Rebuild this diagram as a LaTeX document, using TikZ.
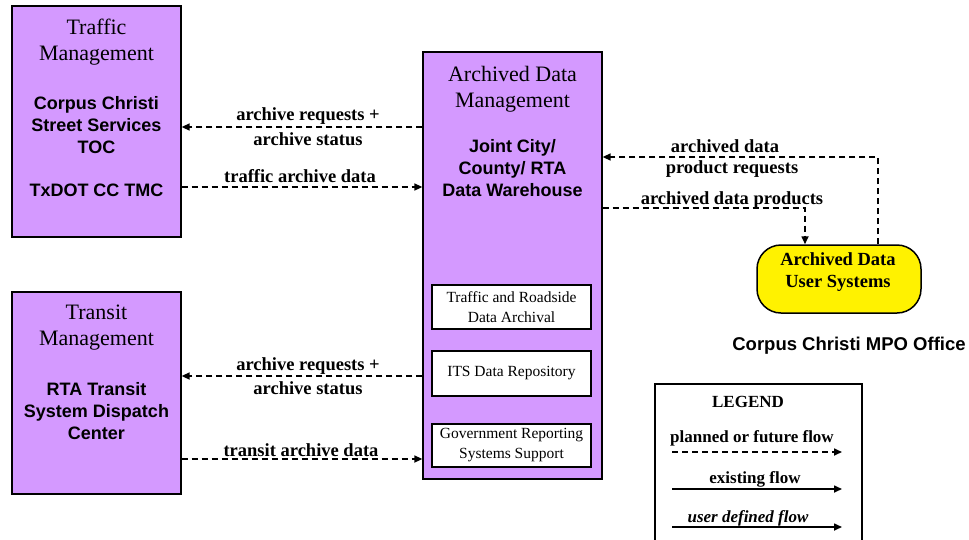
\documentclass[tikz,border=0pt]{standalone}
\usepackage{fontspec}
\setmainfont{Liberation Serif}
\setsansfont{Liberation Sans}
\usetikzlibrary{arrows.meta}
\definecolor{purp}{RGB}{212,153,255}
\begin{document}
\begin{tikzpicture}[x=1pt,y=-1pt,
  box/.style={draw=black, line width=1.3pt, fill=purp, inner sep=0pt},
  sub/.style={draw=black, line width=1.3pt, fill=white, minimum width=159pt, inner sep=0pt, align=center, font=\fontsize{15.5}{20}\selectfont},
  title/.style={font=\fontsize{22}{26}\selectfont, align=center, inner sep=0pt},
  org/.style={font=\sffamily\bfseries\fontsize{18}{22}\selectfont, align=center, inner sep=0pt},
  lab/.style={font=\bfseries\fontsize{18.5}{22}\selectfont, align=center, inner sep=0pt},
  leglab/.style={font=\bfseries\fontsize{17}{20}\selectfont, align=center, inner sep=0pt},
  flow/.style={dash pattern=on 6pt off 4pt, line width=1.6pt, -{Triangle[length=8pt,width=7pt]}},
  solidflow/.style={line width=1.6pt, -{Triangle[length=8pt,width=7pt]}}
]
\useasboundingbox (0,0) rectangle (969,539);

% Traffic Management
\node[box, minimum width=169pt, minimum height=231pt] (tm) at (96.5,121.5) {};
\node[title] (tmt) at (96.5,42) {Traffic\\Management};
\node[org] (tmo) at (96.5,125) {Corpus Christi\\Street Services\\TOC};
\node[org] (tmo2) at (96.5,190) {TxDOT CC TMC};

% Transit Management
\node[box, minimum width=169pt, minimum height=202pt] (trm) at (96.5,393) {};
\node[title] (trmt) at (96.5,328) {Transit\\Management};
\node[org] (trmo) at (96.5,411) {RTA Transit\\System Dispatch\\Center};

% Archived Data Management
\node[box, minimum width=179pt, minimum height=427pt] (adm) at (512.5,265.5) {};
\node[title] (admt) at (512.5,89) {Archived Data\\Management};
\node[org] (admo) at (512.5,168) {Joint City/\\County/ RTA\\Data Warehouse};
\node[sub, minimum height=44pt] (s1) at (511.5,307) {Traffic and Roadside\\Data Archival};
\node[sub, minimum height=45pt] (s2) at (511.5,373.5) {ITS Data Repository};
\node[sub, minimum height=43pt] (s3) at (511.5,445.5) {Government Reporting\\Systems Support};

% Archived Data User Systems
\node[draw=black, line width=1.5pt, fill=yellow, rounded corners=24pt, minimum width=164pt, minimum height=68pt, inner sep=0pt] (ads) at (839,279) {};
\node[font=\bfseries\fontsize{18.5}{22}\selectfont, align=center, inner sep=0pt] (adst) at (838,272.5) {Archived Data\\User Systems};
\node[font=\sffamily\bfseries\fontsize{18.5}{20}\selectfont, inner sep=0pt] (mpo) at (849,346) {Corpus Christi MPO Office};

% Flows: Traffic
\draw[flow] (adm.west |- 0,127) -- (tm.east |- 0,127);
\node[lab] (l1a) at (308,116) {archive requests +};
\node[lab] (l1b) at (308,139) {archive status};
\draw[flow] (tm.east |- 0,187) -- (adm.west |- 0,187);
\node[lab] (l2) at (300,176) {traffic archive data};

% Flows: Transit
\draw[flow] (adm.west |- 0,376) -- (trm.east |- 0,376);
\node[lab] (l3a) at (308,366) {archive requests +};
\node[lab] (l3b) at (308,388) {archive status};
\draw[flow] (trm.east |- 0,459) -- (adm.west |- 0,459);
\node[lab] (l4) at (301,450) {transit archive data};

% Flows: user systems
\coordinate (c1) at (878,157);
\draw[flow] (ads.north -| c1) -- (c1) -- (adm.east |- c1);
\node[lab] (l5a) at (725,146) {archived data};
\node[lab] (l5b) at (732,169) {product requests};
\coordinate (c2) at (805,208);
\draw[flow] (adm.east |- c2) -- (c2) -- (ads.north -| c2);
\node[lab] (l6) at (732,200) {archived data products};

% Legend
\node[draw=black, line width=1.3pt, fill=white, minimum width=207pt, minimum height=176pt, inner sep=0pt] (leg) at (758.5,472) {};
\node[leglab] (legt) at (748,402) {LEGEND};
\node[leglab] (lg1) at (752,438) {planned or future flow};
\coordinate (lg1s) at (672,452);
\coordinate (lg1e) at (842,452);
\draw[flow] (lg1s) -- (lg1e);
\node[leglab] (lg2) at (755,479) {existing flow};
\coordinate (lg2s) at (672,489);
\coordinate (lg2e) at (842,489);
\draw[solidflow] (lg2s) -- (lg2e);
\node[leglab, font=\bfseries\itshape\fontsize{17}{20}\selectfont] (lg3) at (748,518) {user defined flow};
\coordinate (lg3s) at (672,527);
\coordinate (lg3e) at (842,527);
\draw[solidflow] (lg3s) -- (lg3e);
\end{tikzpicture}
\end{document}
